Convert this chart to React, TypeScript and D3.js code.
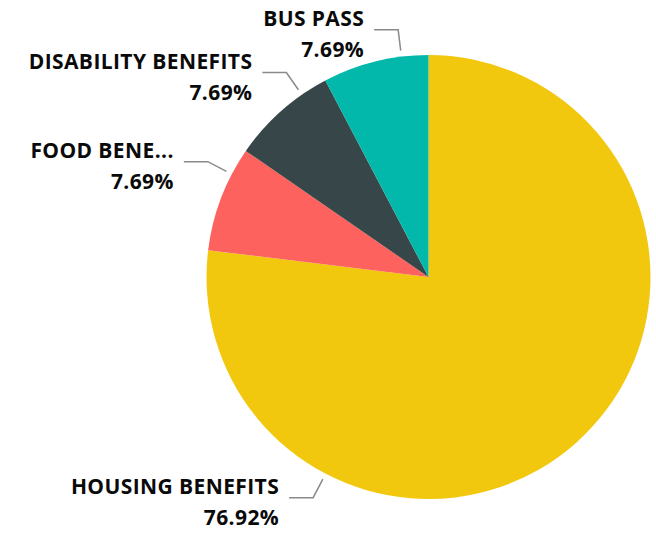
import React from "react";
import * as d3 from "d3";

const categories = ["HOUSING BENEFITS", "FOOD BENE...", "DISABILITY BENEFITS", "BUS PASS"];
const values = [10, 1, 1, 1];
const percentLabels = ["76.92%", "7.69%", "7.69%", "7.69%"];
const colors = ["#F2C80F", "#FD625E", "#374649", "#01B8AA"];
// leader-line anchor angles (degrees, clockwise from 12 o'clock) — layout only
const labelAngles = [207.6, 297.6, 325.2, 353];

const W = 656;
const H = 535;
const cx = 428.5;
const cy = 277;
const R = 222;

export default function App() {
  const pie = d3
    .pie<number>()
    .sort(null)
    .value((d) => d)
    .startAngle(0)
    .endAngle(2 * Math.PI);
  const arcs = pie(values);
  const arcGen = d3.arc<d3.PieArcDatum<number>>().innerRadius(0).outerRadius(R);

  const textStyle = {
    fontFamily: "'Open Sans', sans-serif",
    fontWeight: 700,
    fontSize: 21,
    letterSpacing: 0.4,
  } as const;

  return (
    <svg
      width={W}
      height={H}
      style={{ position: "absolute", left: 0, top: 0, display: "block", background: "#fff" }}
    >
      <g transform={`translate(${cx},${cy})`}>
        {arcs.map((a, i) => (
          <path key={i} d={arcGen(a) || ""} fill={colors[i]} />
        ))}
      </g>
      {categories.map((c, i) => {
        const ang = (labelAngles[i] * Math.PI) / 180;
        const ux = Math.sin(ang);
        const uy = -Math.cos(ang);
        const x0 = cx + ux * (R + 6);
        const y0 = cy + uy * (R + 6);
        const x1 = x0 + ux * 21;
        const y1 = y0 + uy * 21;
        const x2 = x1 - 24;
        const tx = x2 - 10;
        return (
          <g key={c}>
            <polyline
              points={`${x0},${y0} ${x1},${y1} ${x2},${y1}`}
              fill="none"
              stroke="#8a8a8a"
              strokeWidth={1.5}
            />
            <text x={tx} y={y1 - 4} textAnchor="end" fill="#0a0a0a" style={textStyle}>
              {c}
            </text>
            <text x={tx} y={y1 + 27} textAnchor="end" fill="#0a0a0a" style={textStyle}>
              {percentLabels[i]}
            </text>
          </g>
        );
      })}
    </svg>
  );
}
